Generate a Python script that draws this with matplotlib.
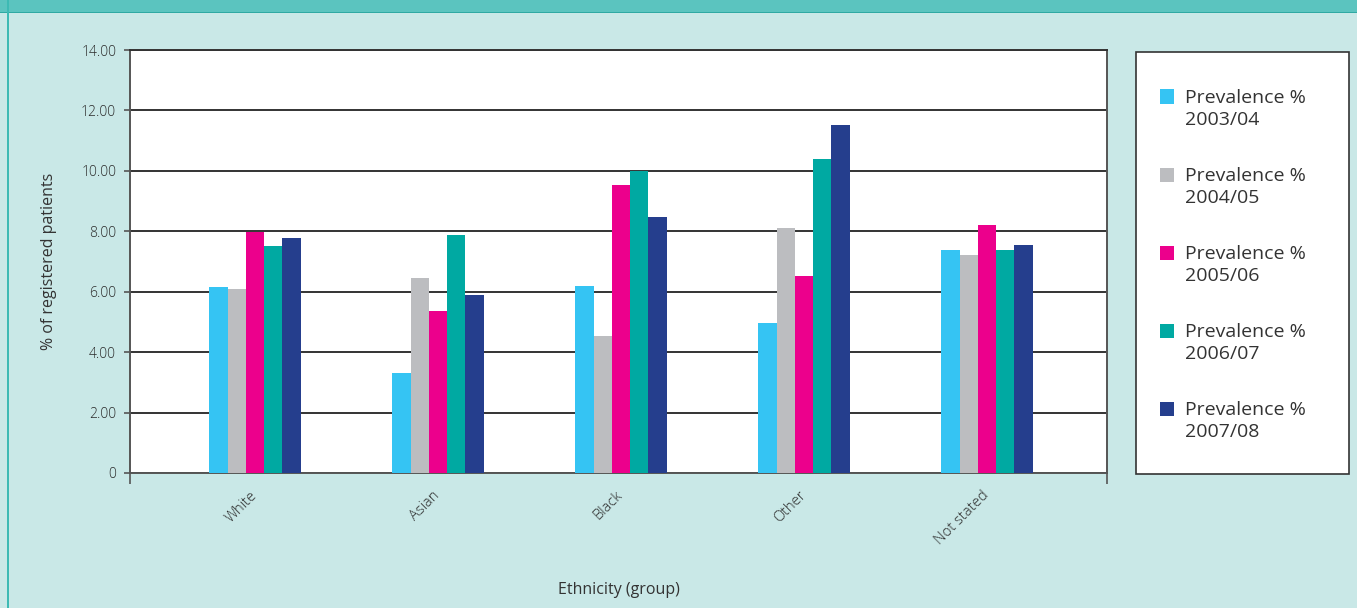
import matplotlib
matplotlib.use('Agg')
import matplotlib.pyplot as plt
from matplotlib.patches import Rectangle, Patch
from matplotlib.transforms import ScaledTranslation
import numpy as np

plt.rcParams['font.family'] = ['Open Sans', 'DejaVu Sans']

# Data
groups = ['White', 'Asian', 'Black', 'Other', 'Not stated']
years = ['2003/04', '2004/05', '2005/06', '2006/07', '2007/08']
prev_0304 = [6.16, 3.31, 6.19, 4.97, 7.38]
prev_0405 = [6.09, 6.46, 4.54, 8.11, 7.22]
prev_0506 = [7.99, 5.36, 9.54, 6.52, 8.21]
prev_0607 = [7.52, 7.88, 10.00, 10.40, 7.38]
prev_0708 = [7.78, 5.89, 8.48, 11.52, 7.55]
series = [prev_0304, prev_0405, prev_0506, prev_0607, prev_0708]
colors = ['#35C4F3', '#BCBDC0', '#EC008C', '#00A9A2', '#253E8D']
yticks = [0, 2, 4, 6, 8, 10, 12, 14]
ytick_labels = ['0', '2.00', '4.00', '6.00', '8.00', '10.00', '12.00', '14.00']

W, H = 1357, 608
bg = '#C9E8E7'
txt = '#333333'

fig = plt.figure(figsize=(W / 100, H / 100), dpi=100, facecolor=bg)

# top band and left border
fig.patches.append(Rectangle((0, 1 - 13 / H), 1, 13 / H, transform=fig.transFigure,
                             facecolor='#5BC4BF', edgecolor='none'))
fig.patches.append(Rectangle((0, 1 - 13 / H), 1, 1.5 / H, transform=fig.transFigure,
                             facecolor='#2FA9A3', edgecolor='none'))
fig.patches.append(Rectangle((7 / W, 0), 2 / W, 1, transform=fig.transFigure,
                             facecolor='#3DBAB4', edgecolor='none'))

ax = fig.add_axes([130 / W, 1 - 473 / H, (1107 - 130) / W, (473 - 50) / H])
ax.set_facecolor('white')

x = np.arange(len(groups))
bw = 0.1
for i, (vals, c) in enumerate(zip(series, colors)):
    ax.bar(x + (i - 2) * bw, vals, width=bw, color=c, edgecolor='none', zorder=3,
           label='Prevalence %\n' + years[i])

ax.set_ylim(0, 14)
xmin, xmax = -0.683, 4.656
ax.set_xlim(xmin, xmax)
ax.set_yticks(yticks)
ax.set_yticklabels(ytick_labels, fontweight='light')
ax.yaxis.grid(True, color='#333333', lw=1.4, zorder=1)
ax.set_axisbelow(True)

ax.set_xticks(x)
ax.set_xticklabels(groups, rotation=45, ha='right', va='top', rotation_mode='anchor',
                   fontweight='light')
ax.tick_params(axis='x', length=0, pad=11, labelsize=10.5, labelcolor='#2a2a2a')
shift = ScaledTranslation(-4 / 72, 0, fig.dpi_scale_trans)
for lab in ax.get_xticklabels():
    lab.set_transform(lab.get_transform() + shift)
ax.set_xticks([xmin, xmax], minor=True)
ax.tick_params(axis='x', which='minor', length=8, color='#555555', width=1.2)
ax.tick_params(axis='y', length=4, color='#555555', width=1.2, pad=6,
               labelsize=10, labelcolor='#2a2a2a')

for s in ['left', 'right', 'bottom', 'top']:
    ax.spines[s].set_color('#555555')
    ax.spines[s].set_linewidth(1.4)
ax.spines['top'].set_color('#333333')

ax.set_ylabel('% of registered patients', fontsize=11.5, color=txt)
ax.yaxis.set_label_coords((57 - 130) / (1107 - 130), 0.5)
ax.set_xlabel('Ethnicity (group)', fontsize=11.5, color=txt)
ax.xaxis.set_label_coords(0.5, (473 - 582) / (473 - 50))

# legend box
fig.patches.append(Rectangle((1136 / W, 1 - 474 / H), (1349 - 1136) / W, (474 - 52) / H,
                             transform=fig.transFigure, facecolor='white',
                             edgecolor='#333333', lw=1.2, zorder=5))
handles = [Patch(facecolor=c, edgecolor='none') for c in colors]
labels = ['Prevalence %\n' + y for y in years]
leg = fig.legend(handles, labels, loc='upper left',
                 bbox_to_anchor=(1150 / W, 1 - 79 / H), frameon=False,
                 fontsize=14, labelcolor=txt, handlelength=0.75, handleheight=0.75,
                 handletextpad=0.55, labelspacing=1.95, borderpad=0)
leg.set_zorder(6)
for t in leg.get_texts():
    t.set_linespacing(1.3)
# move the colour squares up to the first text line
for h in leg.legend_handles:
    h.set_y(h.get_y() + 9)

fig.savefig('out.png', dpi=100, facecolor=bg)
